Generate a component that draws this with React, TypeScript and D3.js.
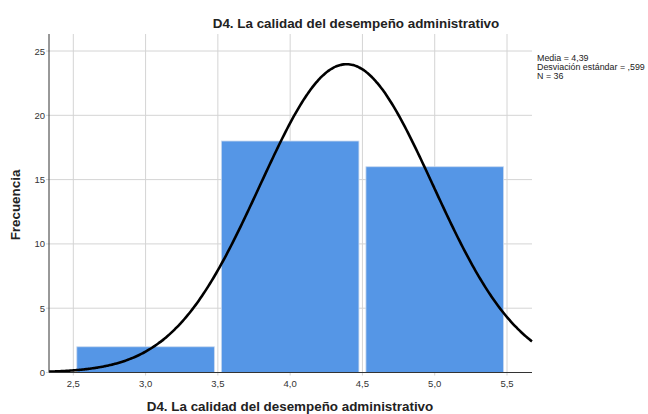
import React from "react";
import * as d3 from "d3";

const binStarts = [2.5, 3.5, 4.5];
const binEnds = [3.5, 4.5, 5.5];
const counts = [2, 18, 16];
const xTicks = [2.5, 3.0, 3.5, 4.0, 4.5, 5.0, 5.5];
const yTicks = [0, 5, 10, 15, 20, 25];
const mean = 4.39;
const sd = 0.599;
const n = 36;
const statsLines = ["Media = 4,39", "Desviación estándar = ,599", "N = 36"];
const title = "D4. La calidad del desempeño administrativo";
const yLabel = "Frecuencia";

const W = 648, H = 414;
const left = 49, right = 532, top = 34, bottom = 372.5;

export default function App() {
  const x = d3.scaleLinear().domain([2.5, 5.5]).range([73.3, 507]);
  const y = d3.scaleLinear().domain([0, 25]).range([372.5, 51]);
  const xMin = x.invert(left), xMax = x.invert(right);
  const fmt = (v: number) => v.toFixed(1).replace(".", ",");
  const pdf = (v: number) => (n * 1 / (sd * Math.sqrt(2 * Math.PI))) * Math.exp(-0.5 * ((v - mean) / sd) ** 2);
  const pts = d3.range(0, 301).map(i => xMin + (xMax - xMin) * i / 300);
  const line = d3.line<number>().x(v => x(v)).y(v => y(pdf(v))).curve(d3.curveBasis);
  const font = "Liberation Sans, Arial, sans-serif";
  return (
    <svg width={W} height={H} style={{ position: "absolute", left: 0, top: 0, background: "#fff" }} fontFamily={font}>
      <text x={356} y={28} textAnchor="middle" fontSize={13.4} fontWeight="bold" fill="#222">{title}</text>
      {yTicks.map(t => (
        <g key={"y" + t}>
          <line x1={left - 3} x2={right} y1={y(t)} y2={y(t)} stroke="#d4d4d4" strokeWidth={1} />
          <text x={left - 4} y={y(t) + 3.5} textAnchor="end" fontSize={9.5} fill="#333">{t}</text>
        </g>
      ))}
      {xTicks.map(t => (
        <g key={"x" + t}>
          <line x1={x(t)} x2={x(t)} y1={top} y2={bottom + 3} stroke="#d4d4d4" strokeWidth={1} />
          <text x={x(t)} y={bottom + 14} textAnchor="middle" fontSize={9.5} fill="#333">{fmt(t)}</text>
        </g>
      ))}
      {counts.map((c, i) => (
        <rect key={"b" + i} x={x(binStarts[i]) + 3.5} width={x(binEnds[i]) - x(binStarts[i]) - 7}
          y={y(c)} height={y(0) - y(c)} fill="#5596e6" stroke="#c8d8ee" strokeWidth={0.8} />
      ))}
      <path d={line(pts) || ""} fill="none" stroke="#000" strokeWidth={2.6} />
      <line x1={left} x2={left} y1={top} y2={bottom} stroke="#333" strokeWidth={1} />
      <line x1={left} x2={right} y1={bottom} y2={bottom} stroke="#333" strokeWidth={1} />
      <text transform={`translate(20,205) rotate(-90)`} textAnchor="middle" fontSize={13.4} fontWeight="bold" fill="#222">{yLabel}</text>
      <text x={290} y={411} textAnchor="middle" fontSize={13.4} fontWeight="bold" fill="#222">{title}</text>
      {statsLines.map((s, i) => (
        <text key={"s" + i} x={537} y={61 + i * 9} fontSize={8.9} fill="#222">{s}</text>
      ))}
    </svg>
  );
}
